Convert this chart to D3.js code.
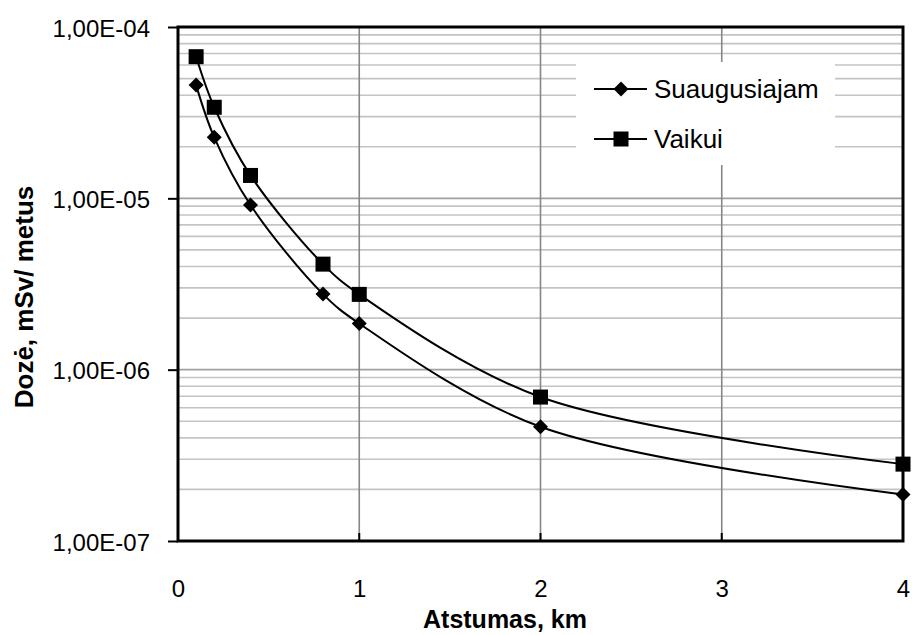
<!DOCTYPE html>
<html>
<head>
<meta charset="utf-8">
<script src="https://cdn.jsdelivr.net/npm/d3@7"></script>
<style>
  html, body { margin: 0; padding: 0; background: #fff; }
  svg { display: block; }
  text { font-family: Arial, "Liberation Sans", sans-serif; fill: #000; }
</style>
</head>
<body>
<svg id="chart" width="912" height="635"></svg>
<script>
// Distance from source, km
const distances = [0.1, 0.2, 0.4, 0.8, 1, 2, 4];
// Annual dose, mSv/year
const adultDose = [4.58e-5, 2.27e-5, 9.14e-6, 2.76e-6, 1.86e-6, 4.64e-7, 1.87e-7];
const childDose = [6.71e-5, 3.40e-5, 1.36e-5, 4.13e-6, 2.75e-6, 6.92e-7, 2.81e-7];

const seriesNames = ["Suaugusiajam", "Vaikui"];
const xTicks = [0, 1, 2, 3, 4];
const yTicks = [1e-7, 1e-6, 1e-5, 1e-4];
const yTickLabels = ["1,00E-07", "1,00E-06", "1,00E-05", "1,00E-04"];

const svg = d3.select("#chart");
const m = { left: 178, right: 903, top: 27, bottom: 541 };

const x = d3.scaleLinear().domain([0, 4]).range([m.left, m.right]);
const y = d3.scaleLog().domain([1e-7, 1e-4]).range([m.bottom, m.top]);

// minor horizontal gridlines (2..9 within each decade)
const minor = [];
for (let e = -7; e < -4; e++) {
  for (let k = 2; k <= 9; k++) minor.push(k * Math.pow(10, e));
}
svg.append("g").selectAll("line").data(minor).join("line")
  .attr("x1", m.left).attr("x2", m.right)
  .attr("y1", d => y(d)).attr("y2", d => y(d))
  .attr("stroke", "#c4c4c4").attr("stroke-width", 1.6);

// major horizontal gridlines
svg.append("g").selectAll("line").data(yTicks.slice(1, -1)).join("line")
  .attr("x1", m.left).attr("x2", m.right)
  .attr("y1", d => y(d)).attr("y2", d => y(d))
  .attr("stroke", "#a0a0a0").attr("stroke-width", 1.6);

// vertical gridlines
svg.append("g").selectAll("line").data(xTicks.slice(1, -1)).join("line")
  .attr("x1", d => x(d)).attr("x2", d => x(d))
  .attr("y1", m.top).attr("y2", m.bottom)
  .attr("stroke", "#868686").attr("stroke-width", 1.6);

// small tick marks on the x axis
svg.append("g").selectAll("line").data(xTicks.slice(1, -1)).join("line")
  .attr("x1", d => x(d)).attr("x2", d => x(d))
  .attr("y1", m.bottom - 8).attr("y2", m.bottom)
  .attr("stroke", "#000").attr("stroke-width", 2);

// legend background
const legend = svg.append("g");
legend.append("rect")
  .attr("x", 576).attr("y", 62).attr("width", 259).attr("height", 103)
  .attr("fill", "#fff");

// plot frame
svg.append("rect")
  .attr("x", m.left).attr("y", m.top)
  .attr("width", m.right - m.left).attr("height", m.bottom - m.top)
  .attr("fill", "none").attr("stroke", "#000").attr("stroke-width", 3);

// y axis ticks and labels
const yAxis = d3.axisLeft(y).tickValues(yTicks)
  .tickFormat((d, i) => yTickLabels[i]).tickSize(10).tickPadding(18);
const gy = svg.append("g").attr("transform", `translate(${m.left},0)`).call(yAxis);
gy.select(".domain").remove();
gy.selectAll(".tick line").attr("stroke", "#000").attr("stroke-width", 2);
gy.selectAll(".tick text")
  .style("font-size", "24px").attr("dy", "0.38em")
  .attr("font-family", null);

// x axis labels
const xAxis = d3.axisBottom(x).tickValues(xTicks).tickFormat(d3.format("d"))
  .tickSize(0).tickPadding(0);
const gx = svg.append("g").attr("transform", `translate(0,${m.bottom})`).call(xAxis);
gx.select(".domain").remove();
gx.selectAll(".tick text").style("font-size", "24px")
  .attr("y", 56).attr("dy", 0).attr("font-family", null);

// axis titles
svg.append("text")
  .attr("x", 505).attr("y", 628)
  .attr("text-anchor", "middle")
  .style("font-size", "25px").style("font-weight", "bold")
  .text("Atstumas, km");
svg.append("text")
  .attr("transform", `translate(33,297) rotate(-90)`)
  .attr("text-anchor", "middle")
  .style("font-size", "26px").style("font-weight", "bold")
  .text("Dozė, mSv/ metus");

// smoothed lines and markers
const line = d3.line()
  .x(d => x(d[0])).y(d => y(d[1]))
  .curve(d3.curveCatmullRom.alpha(0.5));

const series = [
  { name: seriesNames[0], values: adultDose, marker: "diamond" },
  { name: seriesNames[1], values: childDose, marker: "square" }
];

function drawMarker(g, type, cx, cy) {
  if (type === "square") {
    g.append("rect").attr("x", cx - 7.5).attr("y", cy - 7.5)
      .attr("width", 15).attr("height", 15).attr("fill", "#000");
  } else {
    const r = 7.5;
    g.append("path")
      .attr("d", `M${cx},${cy - r}L${cx + r},${cy}L${cx},${cy + r}L${cx - r},${cy}Z`)
      .attr("fill", "#000");
  }
}

series.forEach(s => {
  const pts = distances.map((d, i) => [d, s.values[i]]);
  svg.append("path").datum(pts)
    .attr("d", line).attr("fill", "none")
    .attr("stroke", "#000").attr("stroke-width", 2);
  const g = svg.append("g");
  pts.forEach(p => drawMarker(g, s.marker, x(p[0]), y(p[1])));
});

// legend entries
series.forEach((s, i) => {
  const ly = 89 + i * 50;
  legend.append("line")
    .attr("x1", 594).attr("x2", 647).attr("y1", ly).attr("y2", ly)
    .attr("stroke", "#000").attr("stroke-width", 2);
  drawMarker(legend, s.marker, 621, ly);
  legend.append("text")
    .attr("x", 654).attr("y", ly + 9)
    .style("font-size", "26px")
    .text(s.name);
});
</script>
</body>
</html>
